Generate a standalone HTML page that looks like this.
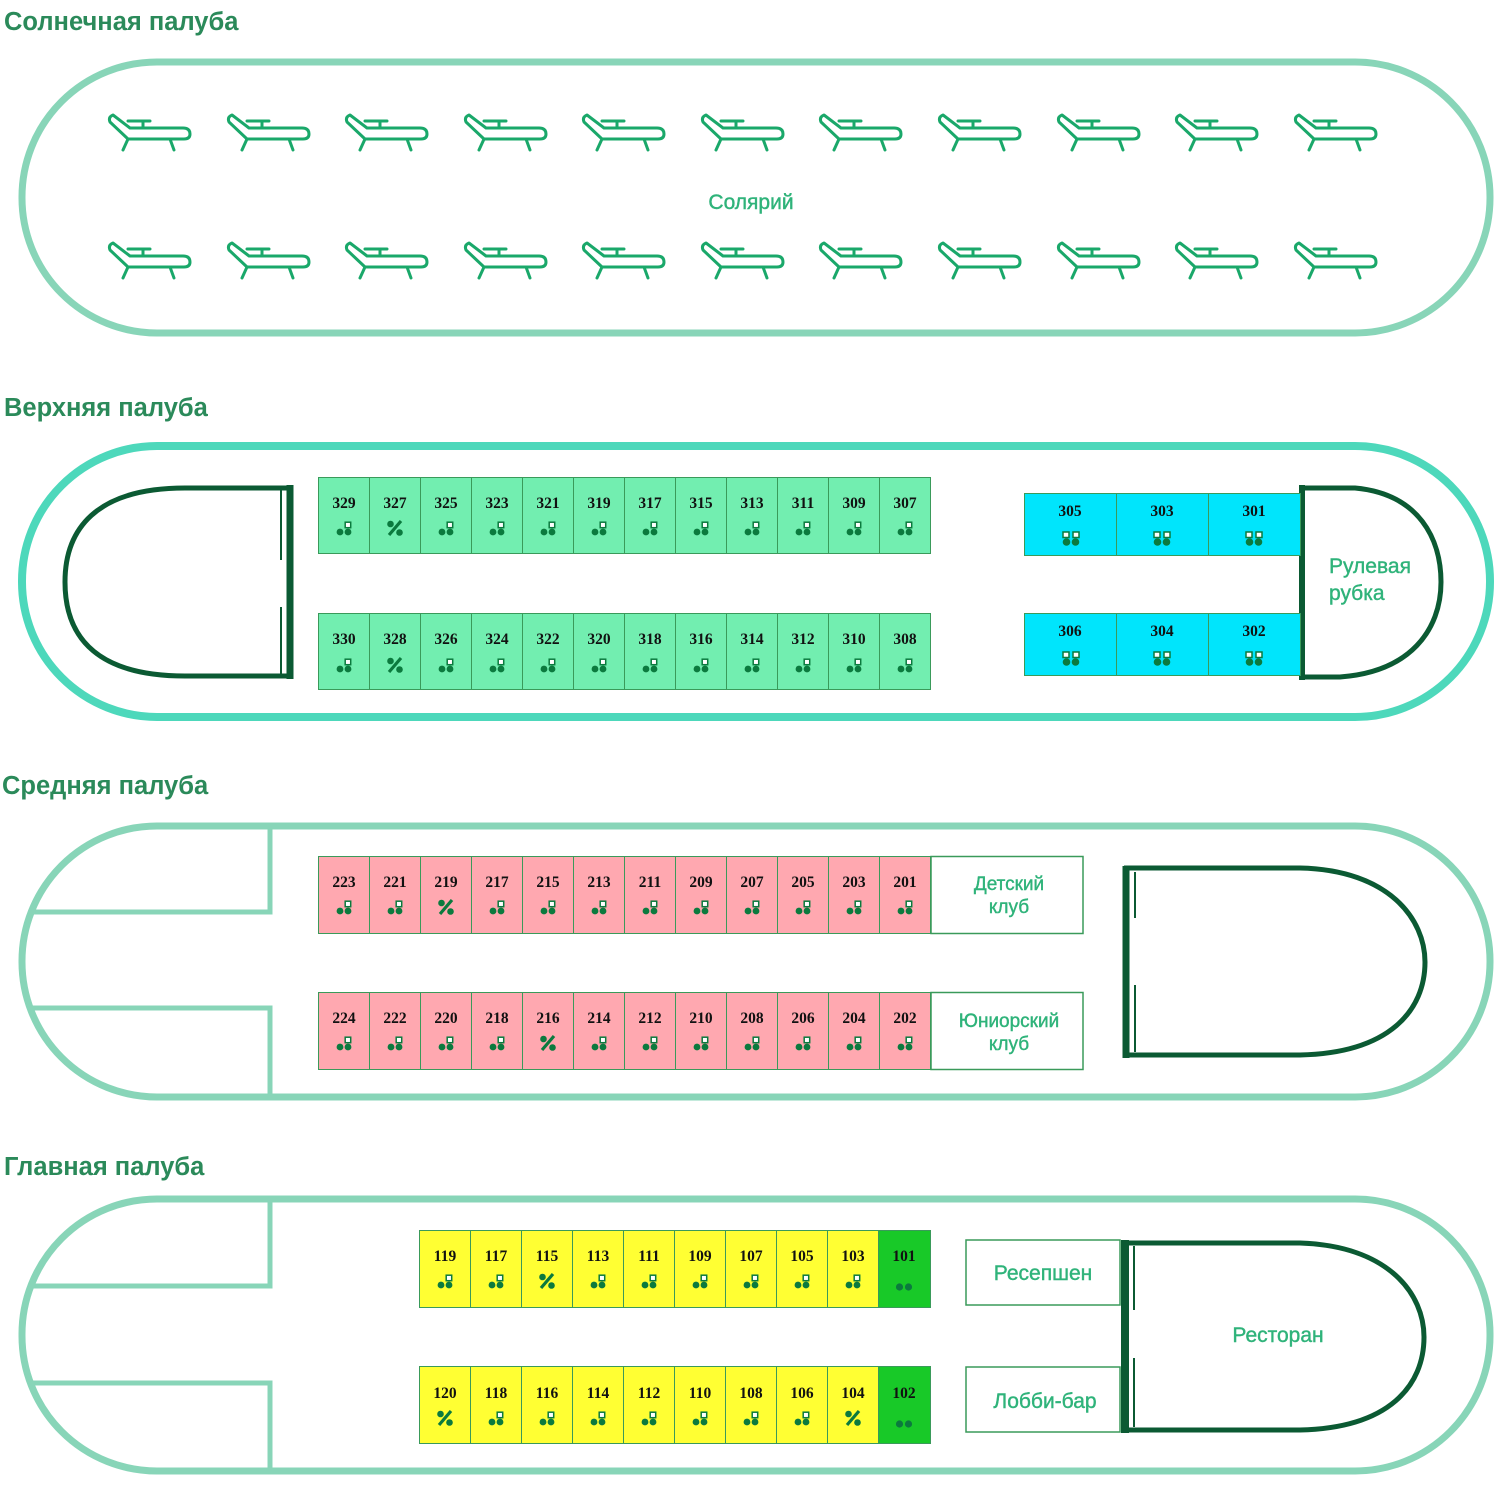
<!DOCTYPE html>
<html><head><meta charset="utf-8">
<style>
html,body{margin:0;padding:0;background:#fff;}
svg{display:block;}
.t{font-family:"Liberation Sans",sans-serif;font-weight:bold;font-size:25.5px;fill:#2b8a5a;}
.l{font-family:"Liberation Sans",sans-serif;font-size:21px;fill:#2fb37a;stroke:#2fb37a;stroke-width:0.4;}
.n{font-family:"Liberation Serif",serif;font-weight:bold;font-size:15.5px;fill:#111;text-anchor:middle;}
</style></head><body>
<svg width="1500" height="1500" viewBox="0 0 1500 1500" xmlns="http://www.w3.org/2000/svg">
<defs>
<g id="lg" fill="none" stroke="#1aa86a" stroke-width="3" stroke-linecap="round" stroke-linejoin="round">
<path d="M5,3 L22,16 L75,16 Q82,16 82,22 Q82,27 76,27 L20,27 L2,10 Q0,5 5,3 Z"/>
<path d="M20,9 L42,9 M35,9 L35,16 M20,27 L15,38 M62,27 L66,38"/>
</g>
<g id="a" fill="#0b7a3e"><circle cx="-4" cy="4" r="3.4"/><circle cx="4" cy="4" r="3.4"/><rect x="1.2" y="-5.8" width="5.5" height="5.5" fill="#fff" stroke="#0b7a3e" stroke-width="1.5"/></g>
<g id="b" fill="#0b7a3e"><circle cx="-4.5" cy="4" r="3.8"/><circle cx="4.5" cy="4" r="3.8"/><rect x="-8" y="-6" width="6" height="5.5" fill="#fff" stroke="#0b7a3e" stroke-width="1.5"/><rect x="2" y="-6" width="6" height="5.5" fill="#fff" stroke="#0b7a3e" stroke-width="1.5"/></g>
<g id="c" fill="#0b7a3e"><circle cx="-4.5" cy="2" r="3.6"/><circle cx="4.5" cy="2" r="3.6"/></g>
<g id="p" fill="#0b7a3e"><circle cx="-4.5" cy="-4" r="3.3"/><circle cx="4.5" cy="4.5" r="3.3"/><path d="M-6,7 L6,-7" stroke="#0b7a3e" stroke-width="3.2"/></g>
</defs>

<text class="t" x="4" y="30">Солнечная палуба</text>
<text class="t" x="4" y="416">Верхняя палуба</text>
<text class="t" x="2" y="794">Средняя палуба</text>
<text class="t" x="4" y="1175">Главная палуба</text>

<rect x="22" y="62" width="1468" height="271" rx="135" ry="135" fill="none" stroke="#88d5b8" stroke-width="7"/>
<rect x="22" y="446" width="1468" height="271" rx="135" ry="135" fill="none" stroke="#4dd8bb" stroke-width="8"/>
<rect x="22" y="826" width="1468" height="271" rx="135" ry="135" fill="none" stroke="#88d5b8" stroke-width="7"/>
<rect x="22" y="1199" width="1468" height="272" rx="135" ry="135" fill="none" stroke="#88d5b8" stroke-width="7"/>

<path d="M30,912 L270,912 L270,826 M30,1008 L270,1008 L270,1097" fill="none" stroke="#88d5b8" stroke-width="5"/>
<path d="M30,1286 L270,1286 L270,1199 M30,1383 L270,1383 L270,1471" fill="none" stroke="#88d5b8" stroke-width="5"/>

<g>
<use href="#lg" x="108" y="112"/><use href="#lg" x="227" y="112"/><use href="#lg" x="345" y="112"/><use href="#lg" x="464" y="112"/><use href="#lg" x="582" y="112"/><use href="#lg" x="701" y="112"/><use href="#lg" x="819" y="112"/><use href="#lg" x="938" y="112"/><use href="#lg" x="1057" y="112"/><use href="#lg" x="1175" y="112"/><use href="#lg" x="1294" y="112"/>
<use href="#lg" x="108" y="240"/><use href="#lg" x="227" y="240"/><use href="#lg" x="345" y="240"/><use href="#lg" x="464" y="240"/><use href="#lg" x="582" y="240"/><use href="#lg" x="701" y="240"/><use href="#lg" x="819" y="240"/><use href="#lg" x="938" y="240"/><use href="#lg" x="1057" y="240"/><use href="#lg" x="1175" y="240"/><use href="#lg" x="1294" y="240"/>
</g>
<text class="l" x="751" y="209" text-anchor="middle">Солярий</text>

<g fill="none" stroke="#0b5a33">
<path d="M291,488 L185,488 C95,488 65,530 65,582 C65,640 100,676 185,676 L291,676" stroke-width="5"/>
<path d="M290,485 L290,679" stroke-width="7"/>
<path d="M281,490 L281,560 M281,607 L281,674" stroke-width="2"/>
<path d="M1300,488 L1355,488 C1420,494 1441,540 1441,582 C1441,630 1410,672 1340,677 L1300,677" stroke-width="5"/>
<path d="M1302,485 L1302,680" stroke-width="6"/>
</g>
<text class="l" x="1329" y="573">Рулевая</text>
<text class="l" x="1329" y="600">рубка</text>

<g stroke="#3a9a5a" stroke-width="1" fill="#72eeb0">
<rect x="318.5" y="477.5" width="612" height="76"/><rect x="318.5" y="613.5" width="612" height="76"/>
<path d="M369.5,477 V553 M420.5,477 V553 M471.5,477 V553 M522.5,477 V553 M573.5,477 V553 M624.5,477 V553 M675.5,477 V553 M726.5,477 V553 M777.5,477 V553 M828.5,477 V553 M879.5,477 V553 M369.5,613 V690 M420.5,613 V690 M471.5,613 V690 M522.5,613 V690 M573.5,613 V690 M624.5,613 V690 M675.5,613 V690 M726.5,613 V690 M777.5,613 V690 M828.5,613 V690 M879.5,613 V690"/>
</g>
<g>
<text class="n" x="344" y="508">329</text><text class="n" x="395" y="508">327</text><text class="n" x="446" y="508">325</text><text class="n" x="497" y="508">323</text><text class="n" x="548" y="508">321</text><text class="n" x="599" y="508">319</text><text class="n" x="650" y="508">317</text><text class="n" x="701" y="508">315</text><text class="n" x="752" y="508">313</text><text class="n" x="803" y="508">311</text><text class="n" x="854" y="508">309</text><text class="n" x="905" y="508">307</text>
<text class="n" x="344" y="644">330</text><text class="n" x="395" y="644">328</text><text class="n" x="446" y="644">326</text><text class="n" x="497" y="644">324</text><text class="n" x="548" y="644">322</text><text class="n" x="599" y="644">320</text><text class="n" x="650" y="644">318</text><text class="n" x="701" y="644">316</text><text class="n" x="752" y="644">314</text><text class="n" x="803" y="644">312</text><text class="n" x="854" y="644">310</text><text class="n" x="905" y="644">308</text>
<use href="#a" x="344" y="528"/><use href="#p" x="395" y="528"/><use href="#a" x="446" y="528"/><use href="#a" x="497" y="528"/><use href="#a" x="548" y="528"/><use href="#a" x="599" y="528"/><use href="#a" x="650" y="528"/><use href="#a" x="701" y="528"/><use href="#a" x="752" y="528"/><use href="#a" x="803" y="528"/><use href="#a" x="854" y="528"/><use href="#a" x="905" y="528"/>
<use href="#a" x="344" y="665"/><use href="#p" x="395" y="665"/><use href="#a" x="446" y="665"/><use href="#a" x="497" y="665"/><use href="#a" x="548" y="665"/><use href="#a" x="599" y="665"/><use href="#a" x="650" y="665"/><use href="#a" x="701" y="665"/><use href="#a" x="752" y="665"/><use href="#a" x="803" y="665"/><use href="#a" x="854" y="665"/><use href="#a" x="905" y="665"/>
</g>

<g stroke="#3a9a5a" stroke-width="1" fill="#00e5fc">
<rect x="1024.5" y="493.5" width="276" height="62"/><rect x="1024.5" y="613.5" width="276" height="62"/>
<path d="M1116.5,493 V555 M1208.5,493 V555 M1116.5,613 V675 M1208.5,613 V675"/>
</g>
<text class="n" x="1070" y="516">305</text><text class="n" x="1162" y="516">303</text><text class="n" x="1254" y="516">301</text>
<text class="n" x="1070" y="636">306</text><text class="n" x="1162" y="636">304</text><text class="n" x="1254" y="636">302</text>
<use href="#b" x="1071" y="538"/><use href="#b" x="1162" y="538"/><use href="#b" x="1254" y="538"/>
<use href="#b" x="1071" y="658"/><use href="#b" x="1162" y="658"/><use href="#b" x="1254" y="658"/>

<g stroke="#3a9a5a" stroke-width="1" fill="#ffa8b0">
<rect x="318.5" y="856.5" width="612" height="77"/><rect x="318.5" y="992.5" width="612" height="77"/>
<path d="M369.5,856 V933 M420.5,856 V933 M471.5,856 V933 M522.5,856 V933 M573.5,856 V933 M624.5,856 V933 M675.5,856 V933 M726.5,856 V933 M777.5,856 V933 M828.5,856 V933 M879.5,856 V933 M369.5,992 V1069 M420.5,992 V1069 M471.5,992 V1069 M522.5,992 V1069 M573.5,992 V1069 M624.5,992 V1069 M675.5,992 V1069 M726.5,992 V1069 M777.5,992 V1069 M828.5,992 V1069 M879.5,992 V1069"/>
</g>
<g>
<text class="n" x="344" y="887">223</text><text class="n" x="395" y="887">221</text><text class="n" x="446" y="887">219</text><text class="n" x="497" y="887">217</text><text class="n" x="548" y="887">215</text><text class="n" x="599" y="887">213</text><text class="n" x="650" y="887">211</text><text class="n" x="701" y="887">209</text><text class="n" x="752" y="887">207</text><text class="n" x="803" y="887">205</text><text class="n" x="854" y="887">203</text><text class="n" x="905" y="887">201</text>
<text class="n" x="344" y="1023">224</text><text class="n" x="395" y="1023">222</text><text class="n" x="446" y="1023">220</text><text class="n" x="497" y="1023">218</text><text class="n" x="548" y="1023">216</text><text class="n" x="599" y="1023">214</text><text class="n" x="650" y="1023">212</text><text class="n" x="701" y="1023">210</text><text class="n" x="752" y="1023">208</text><text class="n" x="803" y="1023">206</text><text class="n" x="854" y="1023">204</text><text class="n" x="905" y="1023">202</text>
<use href="#a" x="344" y="907"/><use href="#a" x="395" y="907"/><use href="#p" x="446" y="907"/><use href="#a" x="497" y="907"/><use href="#a" x="548" y="907"/><use href="#a" x="599" y="907"/><use href="#a" x="650" y="907"/><use href="#a" x="701" y="907"/><use href="#a" x="752" y="907"/><use href="#a" x="803" y="907"/><use href="#a" x="854" y="907"/><use href="#a" x="905" y="907"/>
<use href="#a" x="344" y="1043"/><use href="#a" x="395" y="1043"/><use href="#a" x="446" y="1043"/><use href="#a" x="497" y="1043"/><use href="#p" x="548" y="1043"/><use href="#a" x="599" y="1043"/><use href="#a" x="650" y="1043"/><use href="#a" x="701" y="1043"/><use href="#a" x="752" y="1043"/><use href="#a" x="803" y="1043"/><use href="#a" x="854" y="1043"/><use href="#a" x="905" y="1043"/>
</g>
<g fill="#fff" stroke="#3a9a5a" stroke-width="1.5">
<rect x="931" y="856.5" width="152" height="77"/><rect x="931" y="992.5" width="152" height="77"/>
</g>
<text class="l" x="1009" y="890" text-anchor="middle" style="font-size:19px">Детский</text>
<text class="l" x="1009" y="913" text-anchor="middle" style="font-size:19px">клуб</text>
<text class="l" x="1009" y="1027" text-anchor="middle" style="font-size:19px">Юниорский</text>
<text class="l" x="1009" y="1050" text-anchor="middle" style="font-size:19px">клуб</text>
<g fill="none" stroke="#0b5a33">
<path d="M1124,868 L1300,868 C1390,870 1425,920 1425,962 C1425,1010 1390,1053 1300,1055 L1124,1055" stroke-width="5"/>
<path d="M1126,866 L1126,1058" stroke-width="7"/>
<path d="M1135,872 L1135,918 M1135,985 L1135,1052" stroke-width="2"/>
</g>

<g stroke="#3a9a5a" stroke-width="1" fill="#ffff33">
<rect x="419.5" y="1230.5" width="459" height="77"/><rect x="419.5" y="1366.5" width="459" height="77"/>
<path d="M470.5,1230 V1307 M521.5,1230 V1307 M572.5,1230 V1307 M623.5,1230 V1307 M674.5,1230 V1307 M725.5,1230 V1307 M776.5,1230 V1307 M827.5,1230 V1307 M470.5,1366 V1443 M521.5,1366 V1443 M572.5,1366 V1443 M623.5,1366 V1443 M674.5,1366 V1443 M725.5,1366 V1443 M776.5,1366 V1443 M827.5,1366 V1443"/>
</g>
<g stroke="#3a9a5a" stroke-width="1" fill="#18c928">
<rect x="878.5" y="1230.5" width="52" height="77"/><rect x="878.5" y="1366.5" width="52" height="77"/>
</g>
<g>
<text class="n" x="445" y="1261">119</text><text class="n" x="496" y="1261">117</text><text class="n" x="547" y="1261">115</text><text class="n" x="598" y="1261">113</text><text class="n" x="649" y="1261">111</text><text class="n" x="700" y="1261">109</text><text class="n" x="751" y="1261">107</text><text class="n" x="802" y="1261">105</text><text class="n" x="853" y="1261">103</text><text class="n" x="904" y="1261">101</text>
<text class="n" x="445" y="1398">120</text><text class="n" x="496" y="1398">118</text><text class="n" x="547" y="1398">116</text><text class="n" x="598" y="1398">114</text><text class="n" x="649" y="1398">112</text><text class="n" x="700" y="1398">110</text><text class="n" x="751" y="1398">108</text><text class="n" x="802" y="1398">106</text><text class="n" x="853" y="1398">104</text><text class="n" x="904" y="1398">102</text>
<use href="#a" x="445" y="1281"/><use href="#a" x="496" y="1281"/><use href="#p" x="547" y="1281"/><use href="#a" x="598" y="1281"/><use href="#a" x="649" y="1281"/><use href="#a" x="700" y="1281"/><use href="#a" x="751" y="1281"/><use href="#a" x="802" y="1281"/><use href="#a" x="853" y="1281"/><use href="#c" x="904" y="1285"/>
<use href="#p" x="445" y="1418"/><use href="#a" x="496" y="1418"/><use href="#a" x="547" y="1418"/><use href="#a" x="598" y="1418"/><use href="#a" x="649" y="1418"/><use href="#a" x="700" y="1418"/><use href="#a" x="751" y="1418"/><use href="#a" x="802" y="1418"/><use href="#p" x="853" y="1418"/><use href="#c" x="904" y="1422"/>
</g>
<g fill="#fff" stroke="#3a9a5a" stroke-width="1.5">
<rect x="966" y="1240" width="154" height="65"/><rect x="966" y="1367" width="154" height="65"/>
</g>
<text class="l" x="1043" y="1280" text-anchor="middle">Ресепшен</text>
<text class="l" x="1045" y="1408" text-anchor="middle">Лобби-бар</text>
<g fill="none" stroke="#0b5a33">
<path d="M1124,1243 L1300,1243 C1390,1246 1424,1295 1424,1337 C1424,1385 1390,1428 1300,1430 L1124,1430" stroke-width="5"/>
<path d="M1125,1240 L1125,1433" stroke-width="8"/>
<path d="M1134,1246 L1134,1310 M1134,1358 L1134,1427" stroke-width="2"/>
</g>
<text class="l" x="1278" y="1342" text-anchor="middle">Ресторан</text>
</svg>
</body></html>
